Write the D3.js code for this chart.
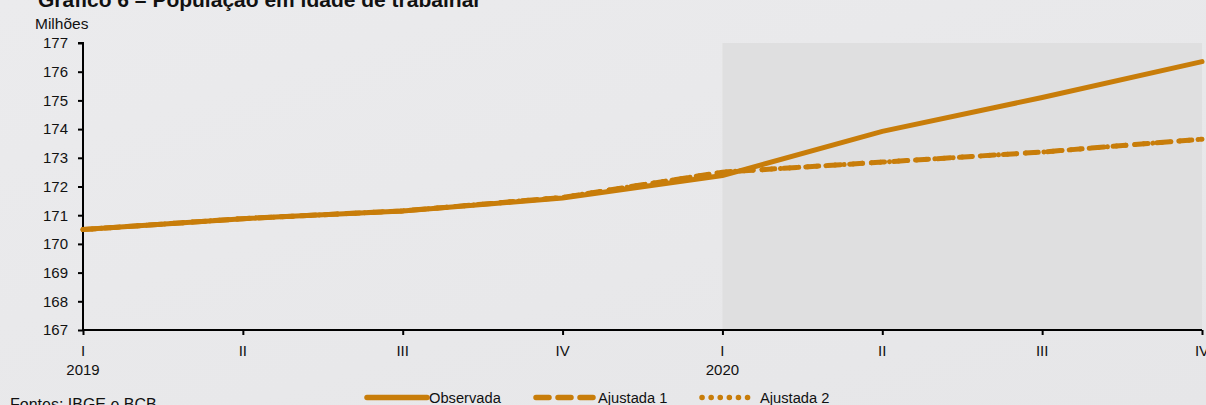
<!DOCTYPE html>
<html><head><meta charset="utf-8">
<script src="https://cdn.jsdelivr.net/npm/d3@7"></script>
<style>
html,body{margin:0;padding:0;background:#e9e9eb;}
svg{display:block;font-family:"Liberation Sans",Arial,sans-serif;}
</style></head>
<body><svg id="c" width="1206" height="405"></svg>
<script>
const quarters = ["I","II","III","IV","I","II","III","IV"];
const years = ["2019","","","","2020","","",""];
const observada = [170.5, 170.88, 171.15, 171.6, 172.38, 173.92, 175.1, 176.35];
const ajustada1 = [170.5, 170.88, 171.15, 171.62, 172.5, 172.85, 173.2, 173.65];
const ajustada2 = [170.5, 170.88, 171.15, 171.62, 172.5, 172.85, 173.2, 173.65];
const yTicks = [167,168,169,170,171,172,173,174,175,176,177];
const color = "#c87d0a";
const FONT = "Liberation Sans, Arial, sans-serif";

const svg = d3.select("#c");
const x = d3.scaleLinear().domain([0,7]).range([83,1202]);
const y = d3.scaleLinear().domain([167,177]).range([330,43]);

const defs = svg.append("defs");
const g1 = defs.append("linearGradient").attr("id","bg").attr("x1","0").attr("y1","0").attr("x2","1").attr("y2","1");
g1.append("stop").attr("offset","0").attr("stop-color","#ebebed");
g1.append("stop").attr("offset","1").attr("stop-color","#e6e6e8");
svg.append("rect").attr("width",1206).attr("height",405).attr("fill","url(#bg)");

// shaded 2020 region
svg.append("rect").attr("x",x(4)).attr("y",y(177)).attr("width",x(7)-x(4)).attr("height",y(167)-y(177)).attr("fill","#dfdfe0");

// title (cut at top, as in reference)
svg.append("text").attr("x",38).attr("y",7).attr("font-size",21).attr("font-weight","bold").attr("fill","#111")
  .text("Gráfico 6 – População em idade de trabalhar");
svg.append("text").attr("x",35).attr("y",29).attr("font-size",15.5).attr("fill","#111").text("Milhões");

// y axis
const yAxis = d3.axisLeft(y).tickValues(yTicks).tickSize(5).tickPadding(10).tickFormat(d3.format("d"));
const ya = svg.append("g").attr("transform","translate(83,0)").call(yAxis);
ya.select(".domain").attr("stroke","#000").attr("stroke-width",2).attr("d","M-5,43H0V331");
ya.selectAll(".tick line").attr("stroke","#000").attr("stroke-width",2);
ya.selectAll(".tick text").attr("font-size",15).attr("fill","#111").attr("font-family",FONT);

// x axis
const xAxis = d3.axisBottom(x).tickValues(d3.range(8)).tickSize(5).tickFormat(()=>"");
const xa = svg.append("g").attr("transform","translate(0,330)").call(xAxis);
xa.select(".domain").attr("stroke","#000").attr("stroke-width",2).attr("d","M83,0H1202");
xa.selectAll(".tick line").attr("stroke","#000").attr("stroke-width",2);
svg.append("g").selectAll("text").data(quarters).join("text")
  .attr("x",(d,i)=>x(i)).attr("y",356).attr("text-anchor","middle").attr("font-size",15).attr("fill","#111").text(d=>d);
svg.append("g").selectAll("text").data(years).join("text")
  .attr("x",(d,i)=>x(i)).attr("y",375).attr("text-anchor","middle").attr("font-size",15).attr("fill","#111").text(d=>d);

// lines
const line = d3.line().x((d,i)=>x(i)).y(d=>y(d));
svg.append("path").datum(ajustada2).attr("d",line).attr("fill","none").attr("stroke",color).attr("stroke-width",5)
  .attr("stroke-dasharray","0.1 9").attr("stroke-linecap","round");
svg.append("path").datum(ajustada1).attr("d",line).attr("fill","none").attr("stroke",color).attr("stroke-width",5)
  .attr("stroke-dasharray","13 9").attr("stroke-linecap","round");
svg.append("path").datum(observada).attr("d",line).attr("fill","none").attr("stroke",color).attr("stroke-width",5)
  .attr("stroke-linecap","round");

// legend
const lg = svg.append("g");
const items = [
  {name:"Observada", x0:367, x1:427, dash:null, tx:429},
  {name:"Ajustada 1", x0:536, x1:596, dash:"13 9", tx:598},
  {name:"Ajustada 2", x0:702, x1:756, dash:"0.1 9", tx:760}
];
items.forEach(it=>{
  lg.append("line").attr("x1",it.x0).attr("x2",it.x1).attr("y1",397.5).attr("y2",397.5)
    .attr("stroke",color).attr("stroke-width",5.5).attr("stroke-linecap","round").attr("stroke-dasharray",it.dash);
  lg.append("text").attr("x",it.tx).attr("y",402.5).attr("font-size",14.7).attr("fill","#111").text(it.name);
});

svg.append("text").attr("x",10).attr("y",410).attr("font-size",16).attr("fill","#111").text("Fontes: IBGE e BCB");
</script>
</body></html>
